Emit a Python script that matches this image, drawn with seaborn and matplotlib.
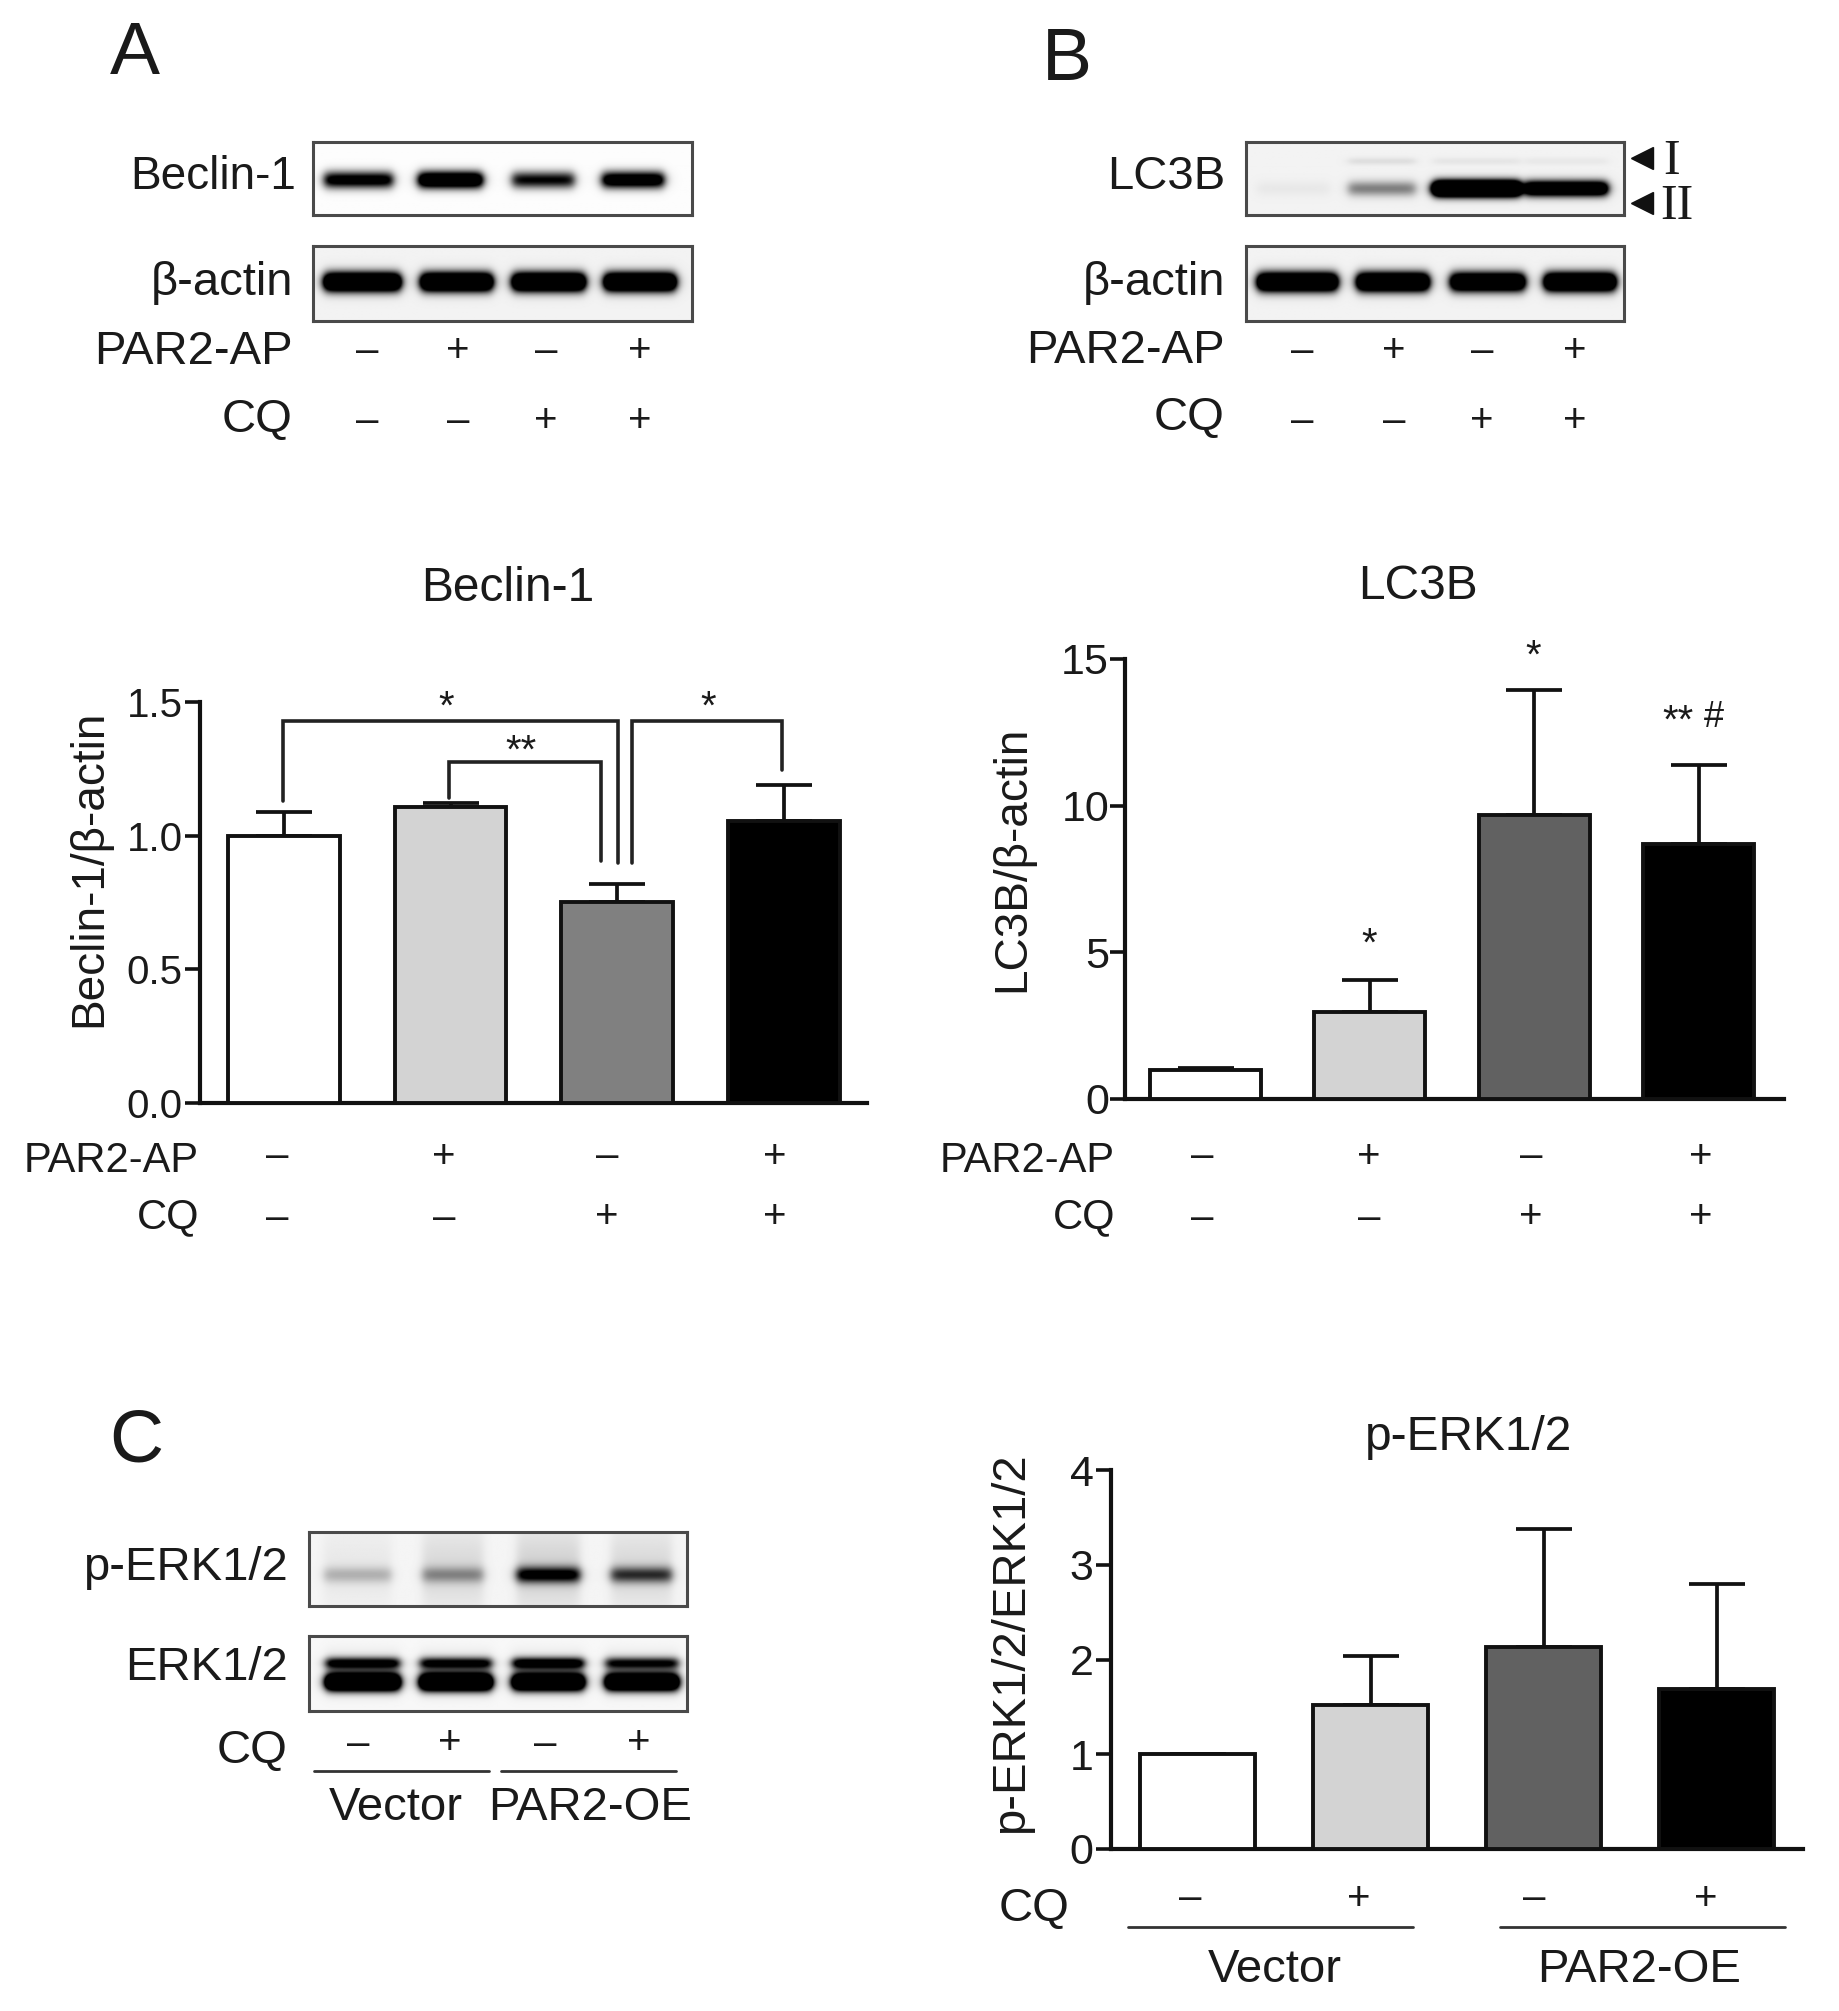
#!/usr/bin/env python3
"""Western blots and densitometry bars, panels A, B and C."""

import numpy as np
import pandas as pd
import matplotlib
matplotlib.use("Agg")
import matplotlib.pyplot as plt
import seaborn as sns

W, H = 1839, 2011

# Data
GROUPS = ["ctrl", "ap", "cq", "ap_cq"]
PAR2_SIGNS = ["–", "+", "–", "+"]
CQ_SIGNS_A = ["–", "–", "+", "+"]
CQ_SIGNS_C = ["–", "+", "–", "+"]

BECLIN_VALUES = [1.0, 1.107, 0.752, 1.053]
BECLIN_ERR_TOPS = [1.089, 1.122, 0.82, 1.19]
LC3B_VALUES = [1.0, 2.96, 9.67, 8.71]
LC3B_ERR_TOPS = [1.04, 4.07, 13.95, 11.38]
PERK_VALUES = [1.0, 1.52, 2.13, 1.69]
PERK_ERR_TOPS = [1.0, 2.04, 3.38, 2.80]

BECLIN_COLORS = ["#ffffff", "#d3d3d3", "#808080", "#000000"]
DARK_COLORS = ["#ffffff", "#d3d3d3", "#616161", "#000000"]

# band strength per lane
BECLIN_BAND = [1.2, 1.7, 1.0, 1.4]
ACTIN_BAND_A = [2.2, 2.2, 2.2, 2.2]
ACTIN_BAND_B = [2.2, 2.2, 2.0, 2.2]
LC3B_II_BAND = [0.04, 0.45, 3.0, 1.8]
LC3B_I_BAND = [0.0, 0.08, 0.05, 0.04]
PERK_BAND = [0.22, 0.35, 1.0, 0.7]
PERK_SMEAR = [0.05, 0.11, 0.14, 0.11]
ERK_LOW_BAND = [2.4, 2.4, 2.2, 2.2]
ERK_UP_BAND = [1.0, 0.95, 1.1, 0.85]
ERK_HAZE = [0.3, 0.3, 0.3, 0.3]

plt.rcParams["font.family"] = ["Liberation Sans", "DejaVu Sans"]
sns.set_theme(style="ticks")
plt.rcParams["font.family"] = ["Liberation Sans", "DejaVu Sans"]

fig = plt.figure(figsize=(W / 100, H / 100), dpi=100, facecolor="white")

# overlay in pixel coordinates for labels and blot annotations
ov = fig.add_axes([0, 0, 1, 1], zorder=5)
ov.set_xlim(0, W)
ov.set_ylim(H, 0)
ov.axis("off")

TEXT_DY = 3.5


def add_bar_panel(box, ymax, ticks, ticklabels, values, tops, colors, bar_width, xlim, ylabel, ylabel_pos,
                  ylabel_size=33, tick_pad=2, tick_size=31):
    """Bar chart placed by its pixel box (left, top, right, bottom)."""
    left, top, right, bottom = box
    ax = fig.add_axes([left / W, 1 - bottom / H, (right - left) / W, (bottom - top) / H])
    df = pd.DataFrame({"group": GROUPS, "value": values})
    sns.barplot(data=df, x="group", y="value", hue="group", palette=colors, width=bar_width,
                dodge=False, legend=False, edgecolor="#111111", linewidth=2.8, saturation=1, ax=ax, zorder=3)
    upper = np.array(tops) - np.array(values)
    ax.errorbar(range(4), values, yerr=[np.zeros(4), upper], fmt="none", ecolor="#111111",
                elinewidth=2.7, capsize=20, capthick=2.7, zorder=2)
    ax.set_xlim(*xlim)
    ax.set_ylim(0, ymax)
    ax.set_yticks(ticks)
    ax.set_yticklabels(ticklabels, fontsize=tick_size, color="#1a1a1a")
    ax.tick_params(axis="y", length=10.5, width=2.6, color="#111111", pad=tick_pad)
    ax.set_xticks([])
    ax.set_xlabel("")
    ax.set_ylabel(ylabel, fontsize=ylabel_size, color="#1a1a1a")
    ax.yaxis.set_label_coords((ylabel_pos[0] - left) / (right - left), (bottom - ylabel_pos[1]) / (bottom - top))
    sns.despine(ax=ax)
    for side in ("left", "bottom"):
        ax.spines[side].set_linewidth(3.0)
        ax.spines[side].set_color("#111111")
    ax.patch.set_alpha(0)
    return ax


def band_image(lanes, y_frac, thick, strengths, soft=0.014):
    """Soft grey bands for a blot strip, one per lane."""
    xs = np.linspace(0, 1, 380)[None, :]
    ys = np.linspace(0, 1, 76)[:, None]
    ink = np.zeros((76, 380))
    for (x0, x1), s in zip(lanes, strengths):
        across = 0.5 * (np.tanh((xs - x0) / soft) - np.tanh((xs - x1) / soft))
        ink += s * across * np.exp(-((ys - y_frac) / thick) ** 2)
    return ink


def add_blot(box, layers, bg=0.97):
    left, top, right, bottom = box
    ax = fig.add_axes([left / W, 1 - bottom / H, (right - left) / W, (bottom - top) / H])
    ink = np.zeros((76, 380))
    for lanes, y_frac, thick, strengths in layers:
        ink += band_image(lanes, y_frac, thick, strengths)
    ax.imshow(np.clip(bg - ink, 0, 1), cmap="gray", vmin=0, vmax=1, aspect="auto", interpolation="bilinear")
    ax.set_xticks([])
    ax.set_yticks([])
    for sp in ax.spines.values():
        sp.set_linewidth(2.2)
        sp.set_color("#4a4a4a")
    return ax


def label(x, y, s, size=34, ha="right", dy=TEXT_DY, **kw):
    ov.text(x, y + dy, s, fontsize=size, ha=ha, va="center", color=kw.pop("color", "#1a1a1a"), **kw)


def sign_row(xs, y, signs, size=29):
    for x, s in zip(xs, signs):
        ov.text(x, y + TEXT_DY, s, fontsize=size, ha="center", va="center", color="#1a1a1a")


def bracket(pts):
    xs, ys = zip(*pts)
    ov.plot(xs, ys, color="#222222", lw=2.6, solid_joinstyle="miter")


# ----- bar panels -----
add_bar_panel((200, 702, 867, 1103), 1.5, [0, 0.5, 1, 1.5], ["0.0", "0.5", "1.0", "1.5"],
              BECLIN_VALUES, BECLIN_ERR_TOPS, BECLIN_COLORS, 0.67, (-0.505, 3.50),
              "Beclin-1/β-actin", (111, 868), tick_pad=2, tick_size=29)
add_bar_panel((1125, 659, 1784, 1099), 15, [0, 5, 10, 15], ["0", "5", "10", "15"],
              LC3B_VALUES, LC3B_ERR_TOPS, DARK_COLORS, 0.675, (-0.49, 3.52),
              "LC3B/β-actin", (1034, 859), tick_pad=1)
add_bar_panel((1111, 1470, 1803, 1849), 4, [0, 1, 2, 3, 4], ["0", "1", "2", "3", "4"],
              PERK_VALUES, PERK_ERR_TOPS, DARK_COLORS, 0.67, (-0.50, 3.50),
              "p-ERK1/2/ERK1/2", (1033, 1643), ylabel_size=34)

# ----- blots -----
LANES_BECLIN = [(.029, .21), (.278, .447), (.526, .69), (.764, .927)]
LANES_ACTIN_A = [(.029, .23), (.285, .473), (.527, .718), (.77, .958)]
LANES_LC3B = [(.03, .22), (.27, .447), (.494, .725), (.737, .955)]
LANES_ACTIN_B = [(.03, .24), (.293, .482), (.541, .736), (.789, .976)]
LANES_PERK = [(.039, .217), (.3, .461), (.55, .717), (.8, .961)]
LANES_ERK = [(.044, .239), (.294, .483), (.539, .728), (.786, .978)]

add_blot((313, 142, 692, 215), [(LANES_BECLIN, 0.52, 0.115, BECLIN_BAND)], bg=0.99)
add_blot((313, 246, 692, 321), [(LANES_ACTIN_A, 0.48, 0.125, ACTIN_BAND_A)], bg=0.95)
add_blot((1246, 142, 1624, 215), [(LANES_LC3B, 0.64, 0.105, LC3B_II_BAND),
                                  (LANES_LC3B, 0.26, 0.05, LC3B_I_BAND)], bg=0.95)
add_blot((1246, 246, 1624, 321), [(LANES_ACTIN_B, 0.48, 0.125, ACTIN_BAND_B)], bg=0.95)
add_blot((309, 1532, 687, 1606), [(LANES_PERK, 0.58, 0.11, PERK_BAND),
                                  (LANES_PERK, 0.5, 0.55, PERK_SMEAR)], bg=0.96)
add_blot((309, 1636, 687, 1711), [(LANES_ERK, 0.62, 0.11, ERK_LOW_BAND),
                                  (LANES_ERK, 0.36, 0.075, ERK_UP_BAND),
                                  (LANES_ERK, 0.48, 0.2, ERK_HAZE)], bg=0.97)

# ----- panel letters -----
label(135, 51, "A", size=54, ha="center")
label(1067, 57, "B", size=54, ha="center")
label(136, 1439, "C", size=54, ha="center")

# ----- panel A text -----
label(296, 173, "Beclin-1", size=33)
label(293, 279, "β-actin")
label(293, 348, "PAR2-AP")
label(293, 416, "CQ")
sign_row([367, 458, 546, 640], 347, PAR2_SIGNS)
sign_row([367, 458, 546, 640], 417, CQ_SIGNS_A)
label(508, 585, "Beclin-1", size=34.5, ha="center")
label(199, 1158, "PAR2-AP", size=30)
label(199, 1214, "CQ", size=30)
sign_row([277, 444, 607, 775], 1153, PAR2_SIGNS)
sign_row([277, 444, 607, 775], 1214, CQ_SIGNS_A)

# significance brackets
bracket([(283, 801), (283, 721), (618, 721), (618, 863)])
bracket([(449, 798), (449, 762), (601, 762), (601, 861)])
bracket([(632, 863), (632, 721), (782, 721), (782, 770)])
label(446, 704, "*", size=29, ha="center")
label(521, 748, "**", size=29, ha="center")
label(708, 704, "*", size=29, ha="center")

# ----- panel B text -----
label(1225, 173, "LC3B")
label(1225, 279, "β-actin")
label(1225, 347, "PAR2-AP")
label(1225, 414, "CQ")
sign_row([1302, 1394, 1482, 1575], 347, PAR2_SIGNS)
sign_row([1302, 1394, 1482, 1575], 417, CQ_SIGNS_A)
ov.plot([1642, 1642], [158, 203], ls="none", marker="<", ms=16, color="#111111")
label(1672, 158, "I", size=36, ha="center", family="Liberation Serif")
label(1677, 203, "II", size=36, ha="center", family="Liberation Serif")
label(1418, 583, "LC3B", size=34.5, ha="center")
label(1115, 1158, "PAR2-AP", size=30)
label(1115, 1214, "CQ", size=30)
sign_row([1202, 1369, 1531, 1701], 1153, PAR2_SIGNS)
sign_row([1202, 1369, 1531, 1701], 1214, CQ_SIGNS_A)
label(1533, 653, "*", size=29, ha="center")
label(1369, 941, "*", size=29, ha="center")
label(1678, 718, "**", size=29, ha="center")
label(1714, 714, "#", size=26, ha="center")

# ----- panel C text -----
label(288, 1565, "p-ERK1/2")
label(288, 1665, "ERK1/2")
label(288, 1747, "CQ")
sign_row([358, 450, 545, 639], 1740, CQ_SIGNS_C)
ov.plot([314, 489], [1771, 1771], color="#333333", lw=2.0)
ov.plot([501, 676], [1771, 1771], color="#333333", lw=2.0)
label(396, 1805, "Vector", ha="center")
label(590, 1805, "PAR2-OE", ha="center")

label(1469, 1434, "p-ERK1/2", size=34.5, ha="center")
label(1070, 1905, "CQ", size=34)
sign_row([1190, 1359, 1534, 1706], 1895, CQ_SIGNS_C)
ov.plot([1128, 1413], [1927, 1927], color="#333333", lw=2.0)
ov.plot([1500, 1785], [1927, 1927], color="#333333", lw=2.0)
label(1275, 1967, "Vector", ha="center")
label(1639, 1967, "PAR2-OE", ha="center")

fig.savefig("out.png", dpi=100, facecolor="white")
